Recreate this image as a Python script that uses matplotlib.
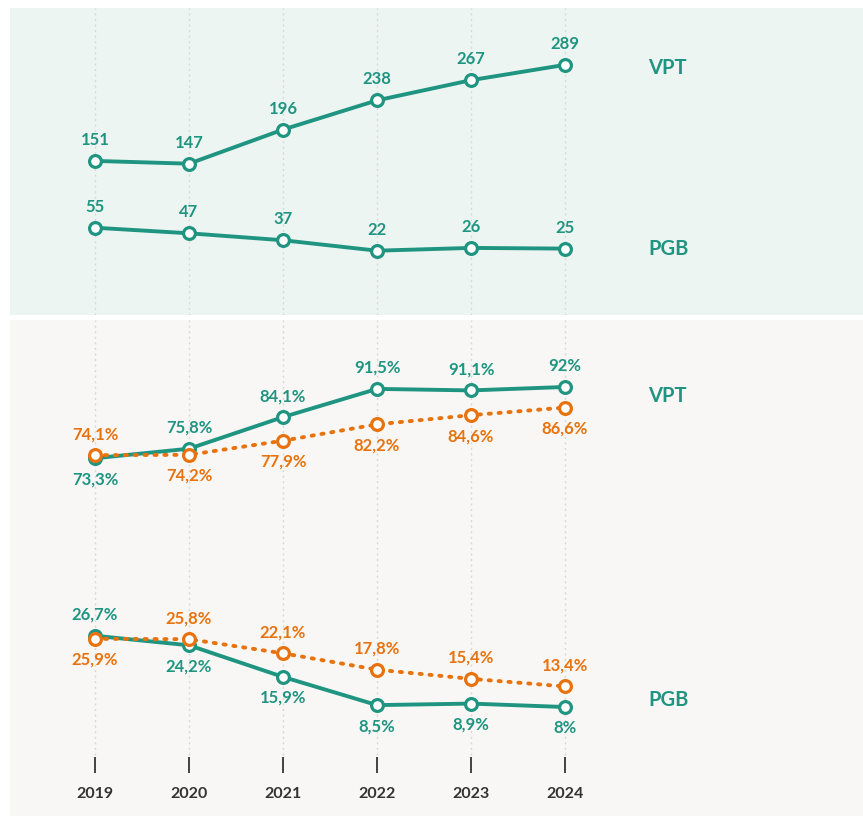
import matplotlib.pyplot as plt

# donnees
annees = ["2019", "2020", "2021", "2022", "2023", "2024"]
vpt_nombre = [151, 147, 196, 238, 267, 289]
pgb_nombre = [55, 47, 37, 22, 26, 25]
vpt_pct = [73.3, 75.8, 84.1, 91.5, 91.1, 92]
vpt_pct_ref = [74.1, 74.2, 77.9, 82.2, 84.6, 86.6]
pgb_pct = [26.7, 24.2, 15.9, 8.5, 8.9, 8]
pgb_pct_ref = [25.9, 25.8, 22.1, 17.8, 15.4, 13.4]

# position des etiquettes : 1 = dessus, -1 = dessous
pos_vpt_pct = [-1, 1, 1, 1, 1, 1]
pos_vpt_ref = [1, -1, -1, -1, -1, -1]
pos_pgb_pct = [1, -1, -1, -1, -1, -1]
pos_pgb_ref = [-1, 1, 1, 1, 1, 1]

VERT = "#1f9581"
ORANGE = "#e8730e"
W, H = 863, 816

plt.rcParams['font.family'] = ['Lato', 'DejaVu Sans']

fig = plt.figure(figsize=(W / 100, H / 100), dpi=100)
fig.patch.set_facecolor("white")

x = list(range(len(annees)))
xlim = (-85 / 94, 768 / 94)

ax1 = fig.add_axes([10 / W, (H - 315) / H, 853 / W, 307 / H])
ax1.set_facecolor("#edf5f2")
ax1.set_xlim(*xlim)
ax1.set_ylim((266 - 315) / 0.696, (266 - 8) / 0.696)

ax2 = fig.add_axes([10 / W, 0, 853 / W, 496 / H])
ax2.set_facecolor("#f8f7f5")
ax2.set_xlim(*xlim)
ax2.set_ylim((737.5 - 816) / 3.81, (737.5 - 320) / 3.81)

for ax in (ax1, ax2):
    for s in ax.spines.values():
        s.set_visible(False)
    ax.set_xticks([])
    ax.set_yticks([])

ylo, yhi = ax1.get_ylim()
ax1.vlines(x, ylo, yhi, colors="#d8d8d8", linestyles=(0, (1.5, 2.5)), lw=1, zorder=1)
ylo2, yhi2 = ax2.get_ylim()
ax2.vlines(x, -4.6, yhi2, colors="#d8d8d8", linestyles=(0, (1.5, 2.5)), lw=1, zorder=1)
ax2.vlines(x, -9.4, -5.0, colors="#333333", lw=1.3, zorder=1)
for xi, a in zip(x, annees):
    ax2.text(xi, -14.8, a, ha="center", va="center", fontsize=11.5,
             fontweight="bold", color="#333333")


def courbe(ax, vals, couleur, style, z):
    ax.plot(x, vals, color=couleur, lw=2.8, linestyle=style,
            dash_capstyle="round", solid_capstyle="round",
            marker="o", markersize=8.5, markerfacecolor="white",
            markeredgecolor=couleur, markeredgewidth=2.3, zorder=z)


def etiquettes(ax, vals, couleur, positions, fmt):
    for xi, v, p in zip(x, vals, positions):
        ax.annotate(fmt(v), (xi, v), xytext=(0, 21 * p), textcoords="offset pixels",
                    ha="center", va="center", fontsize=12, fontweight="bold",
                    color=couleur, zorder=5)


def fmt_pct(v):
    return f"{v:g}".replace(".", ",") + "%"


courbe(ax1, vpt_nombre, VERT, "-", 3)
courbe(ax1, pgb_nombre, VERT, "-", 3)
etiquettes(ax1, vpt_nombre, VERT, [1] * 6, str)
etiquettes(ax1, pgb_nombre, VERT, [1] * 6, str)

courbe(ax2, vpt_pct, VERT, "-", 3)
courbe(ax2, pgb_pct, VERT, "-", 3)
courbe(ax2, vpt_pct_ref, ORANGE, (0, (0.55, 2.0)), 4)
courbe(ax2, pgb_pct_ref, ORANGE, (0, (0.55, 2.0)), 4)
etiquettes(ax2, vpt_pct, VERT, pos_vpt_pct, fmt_pct)
etiquettes(ax2, pgb_pct, VERT, pos_pgb_pct, fmt_pct)
etiquettes(ax2, vpt_pct_ref, ORANGE, pos_vpt_ref, fmt_pct)
etiquettes(ax2, pgb_pct_ref, ORANGE, pos_pgb_ref, fmt_pct)

# noms des series
for ax, v, nom, dy in [(ax1, vpt_nombre[-1], "VPT", -3), (ax1, pgb_nombre[-1], "PGB", 0),
                       (ax2, vpt_pct[-1], "VPT", -9), (ax2, pgb_pct[-1], "PGB", 7)]:
    ax.annotate(nom, (x[-1], v), xytext=(83, dy), textcoords="offset pixels",
                ha="left", va="center", fontsize=14.5, fontweight="bold", color=VERT)

fig.savefig("out.png", dpi=100, facecolor=fig.get_facecolor())
